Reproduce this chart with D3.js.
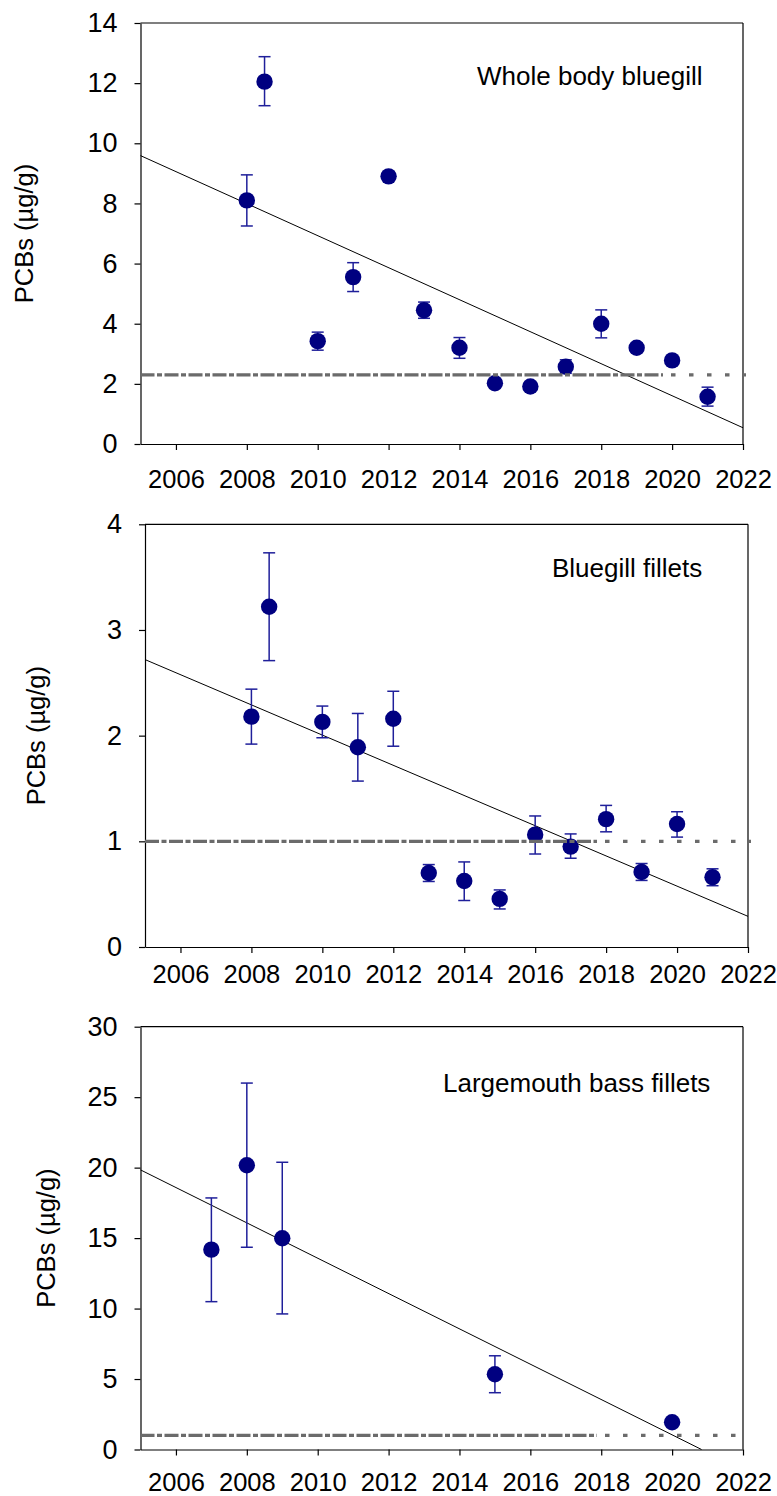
<!DOCTYPE html>
<html><head><meta charset="utf-8">
<script src="https://cdn.jsdelivr.net/npm/d3@7"></script>
<style>body{margin:0;background:#fff}</style>
</head><body><svg id="c" width="777" height="1496"></svg>
<script>
// ---- data ----
const xTickYears = [2006, 2008, 2010, 2012, 2014, 2016, 2018, 2020, 2022];

const wbTitle = "Whole body bluegill";
const wbYears = [2008, 2008.5, 2010, 2011, 2012, 2013, 2014, 2015, 2016, 2017, 2018, 2019, 2020, 2021];
const wbMean  = [8.10, 12.05, 3.42, 5.55, 8.90, 4.45, 3.20, 2.02, 1.91, 2.57, 4.00, 3.20, 2.78, 1.57];
const wbLow   = [7.25, 11.25, 3.12, 5.07, 8.90, 4.18, 2.85, 2.02, 1.91, 2.35, 3.53, 3.05, 2.65, 1.26];
const wbHigh  = [8.95, 12.88, 3.72, 6.03, 8.90, 4.72, 3.54, 2.02, 1.91, 2.80, 4.46, 3.35, 2.90, 1.89];
const wbYTicks = [0, 2, 4, 6, 8, 10, 12, 14];
const wbRef = 2.3;
const wbTrend = [[2005, 9.59], [2022, 0.54]];

const bfTitle = "Bluegill fillets";
const bfYears = [2008, 2008.5, 2010, 2011, 2012, 2013, 2014, 2015, 2016, 2017, 2018, 2019, 2020, 2021];
const bfMean  = [2.18, 3.22, 2.13, 1.89, 2.16, 0.70, 0.625, 0.455, 1.063, 0.95, 1.21, 0.71, 1.164, 0.66];
const bfLow   = [1.92, 2.71, 1.98, 1.57, 1.90, 0.62, 0.44, 0.36, 0.88, 0.84, 1.09, 0.63, 1.04, 0.58];
const bfHigh  = [2.44, 3.73, 2.28, 2.21, 2.42, 0.78, 0.805, 0.54, 1.24, 1.07, 1.34, 0.79, 1.28, 0.74];
const bfYTicks = [0, 1, 2, 3, 4];
const bfRef = 1.0;
const bfTrend = [[2005, 2.72], [2022, 0.29]];

const lbTitle = "Largemouth bass fillets";
const lbYears = [2007, 2008, 2009, 2015, 2020];
const lbMean  = [14.18, 20.17, 14.99, 5.34, 1.93];
const lbLow   = [10.49, 14.35, 9.62, 4.03, 1.93];
const lbHigh  = [17.85, 26.00, 20.38, 6.65, 1.93];
const lbYTicks = [0, 5, 10, 15, 20, 25, 30];
const lbRef = 1.0;
const lbTrend = [[2005, 19.84], [2020.83, 0]];

const yLabel = "PCBs (\u00b5g/g)";

// ---- layout ----
const FONT = '"Liberation Sans", Arial, Helvetica, sans-serif';
const panels = [
  {title: wbTitle, years: wbYears, mean: wbMean, low: wbLow, high: wbHigh, yTicks: wbYTicks, ymax: 14, ref: wbRef, trend: wbTrend,
   x0: 140.5, x1: 743, yTop: 23, yBot: 444, xpad: 20, labX: 33, titleX: 477, titleY: 85, dashEnd: 663},
  {title: bfTitle, years: bfYears, mean: bfMean, low: bfLow, high: bfHigh, yTicks: bfYTicks, ymax: 4, ref: bfRef, trend: bfTrend,
   x0: 145, x1: 748, yTop: 524.3, yBot: 947, xpad: 12, labX: 45, titleX: 552, titleY: 577, dashEnd: 597},
  {title: lbTitle, years: lbYears, mean: lbMean, low: lbLow, high: lbHigh, yTicks: lbYTicks, ymax: 30, ref: lbRef, trend: lbTrend,
   x0: 140.5, x1: 743, yTop: 1026.7, yBot: 1449.5, xpad: 17, labX: 55, titleX: 443, titleY: 1092, dashEnd: 597}
];

const svg = d3.select('#c');
svg.append('rect').attr('width', 777).attr('height', 1496).attr('fill', '#fff');

panels.forEach(p => {
  const x = d3.scaleLinear().domain([2005, 2022]).range([p.x0, p.x1]);
  const y = d3.scaleLinear().domain([0, p.ymax]).range([p.yBot, p.yTop]);
  const g = svg.append('g');

  // frame top & right
  g.append('line').attr('x1', x(2005)).attr('x2', x(2022)).attr('y1', y(p.ymax)).attr('y2', y(p.ymax))
    .attr('stroke', '#000').attr('stroke-width', 1.2);
  g.append('line').attr('x1', x(2022)).attr('x2', x(2022)).attr('y1', y(p.ymax)).attr('y2', y(0))
    .attr('stroke', '#000').attr('stroke-width', 1.2);

  // axes
  const xa = g.append('g').attr('transform', `translate(0,${y(0)})`)
    .call(d3.axisBottom(x).tickValues(xTickYears).tickFormat(d3.format('d')).tickSize(6).tickSizeOuter(0).tickPadding(p.xpad));
  const ya = g.append('g').attr('transform', `translate(${x(2005)},0)`)
    .call(d3.axisLeft(y).tickValues(p.yTicks).tickFormat(d3.format('d')).tickSize(6).tickSizeOuter(0).tickPadding(17));
  [xa, ya].forEach(a => {
    a.attr('font-family', FONT);
    a.selectAll('path, line').attr('stroke', '#000').attr('stroke-width', 1.2);
    a.selectAll('text').attr('fill', '#000');
  });
  xa.selectAll('text').attr('font-size', 25.5);
  ya.selectAll('text').attr('font-size', 27);

  // y label
  g.append('text').attr('transform', `translate(${p.labX},${(y(0) + y(p.ymax)) / 2}) rotate(-90)`)
    .attr('text-anchor', 'middle').attr('font-family', FONT).attr('font-size', 25.5).attr('fill', '#000')
    .text(yLabel);

  // title
  g.append('text').attr('x', p.titleX).attr('y', p.titleY).attr('font-family', FONT)
    .attr('font-size', 26).attr('fill', '#000').text(p.title);

  // trend line
  g.append('line').attr('x1', x(p.trend[0][0])).attr('y1', y(p.trend[0][1]))
    .attr('x2', x(p.trend[1][0])).attr('y2', y(p.trend[1][1]))
    .attr('stroke', '#000').attr('stroke-width', 1);

  // error bars
  const idx = d3.range(p.years.length);
  const eb = g.append('g').attr('stroke', '#1f1f9a').attr('stroke-width', 1.5);
  idx.forEach(i => {
    const cx = x(p.years[i]);
    if (p.high[i] - p.low[i] < 1e-6) return;
    eb.append('line').attr('x1', cx).attr('x2', cx).attr('y1', y(p.low[i])).attr('y2', y(p.high[i]));
    eb.append('line').attr('x1', cx - 6).attr('x2', cx + 6).attr('y1', y(p.low[i])).attr('y2', y(p.low[i]));
    eb.append('line').attr('x1', cx - 6).attr('x2', cx + 6).attr('y1', y(p.high[i])).attr('y2', y(p.high[i]));
  });

  // points
  g.append('g').selectAll('circle').data(idx).join('circle')
    .attr('cx', i => x(p.years[i])).attr('cy', i => y(p.mean[i])).attr('r', 8.2)
    .attr('fill', '#000080');

  // reference line (dash-dot then dotted)
  g.append('line').attr('x1', x(2005)).attr('x2', p.dashEnd).attr('y1', y(p.ref)).attr('y2', y(p.ref))
    .attr('stroke', '#6b6b6b').attr('stroke-width', 3.4).attr('stroke-dasharray', '14,2.5,5,2.5');
  g.append('line').attr('x1', p.dashEnd + 8).attr('x2', x(2022) + 3).attr('y1', y(p.ref)).attr('y2', y(p.ref))
    .attr('stroke', '#6b6b6b').attr('stroke-width', 3.4).attr('stroke-dasharray', '4.5,13.5');
});
</script></body></html>
